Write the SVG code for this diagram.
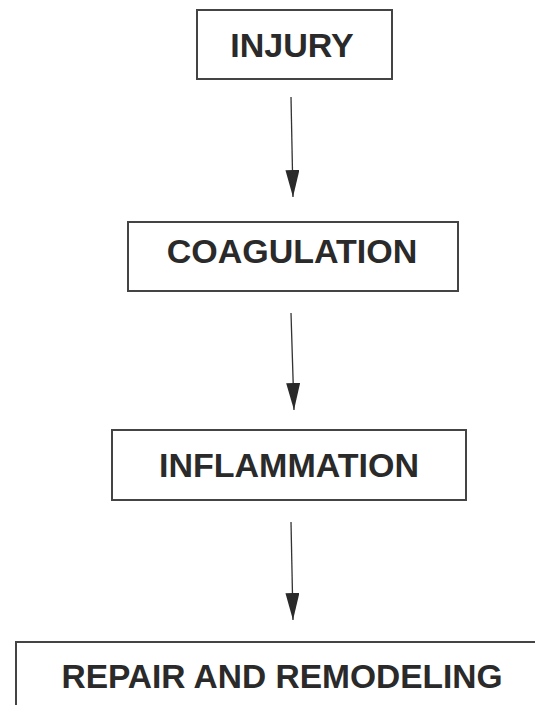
<svg xmlns="http://www.w3.org/2000/svg" width="535" height="705" viewBox="0 0 535 705">
<defs>
<style>
.box{fill:#fff;stroke:#444;stroke-width:2}
.lbl{font-family:"Liberation Sans",Arial,sans-serif;font-weight:bold;font-size:34px;fill:#2a2a2a;text-anchor:middle}
.conn{stroke:#333;stroke-width:1.3;fill:none;marker-end:url(#ah)}
</style>
<marker id="ah" markerUnits="userSpaceOnUse" markerWidth="28" markerHeight="14" refX="27" refY="7" orient="auto">
<path d="M0,0 L27,7 L0,14 z" fill="#2a2a2a"/>
</marker>
</defs>
<rect width="535" height="705" fill="#fff"/>
<g id="injury">
<rect class="box" x="197" y="10" width="195" height="69"/>
<text class="lbl" x="292" y="57">INJURY</text>
</g>
<g id="coagulation">
<rect class="box" x="128" y="222" width="330" height="69"/>
<text class="lbl" x="292" y="263">COAGULATION</text>
</g>
<g id="inflammation">
<rect class="box" x="112" y="430" width="354" height="70"/>
<text class="lbl" x="289" y="477">INFLAMMATION</text>
</g>
<g id="repair">
<rect class="box" x="16" y="642" width="540" height="80"/>
<text class="lbl" x="282" y="688" style="font-size:33.5px">REPAIR AND REMODELING</text>
</g>
<g id="connectors">
<line class="conn" x1="291" y1="97" x2="293" y2="197"/>
<line class="conn" x1="291" y1="313" x2="294" y2="410"/>
<line class="conn" x1="291" y1="522" x2="293" y2="620"/>
</g>
</svg>
